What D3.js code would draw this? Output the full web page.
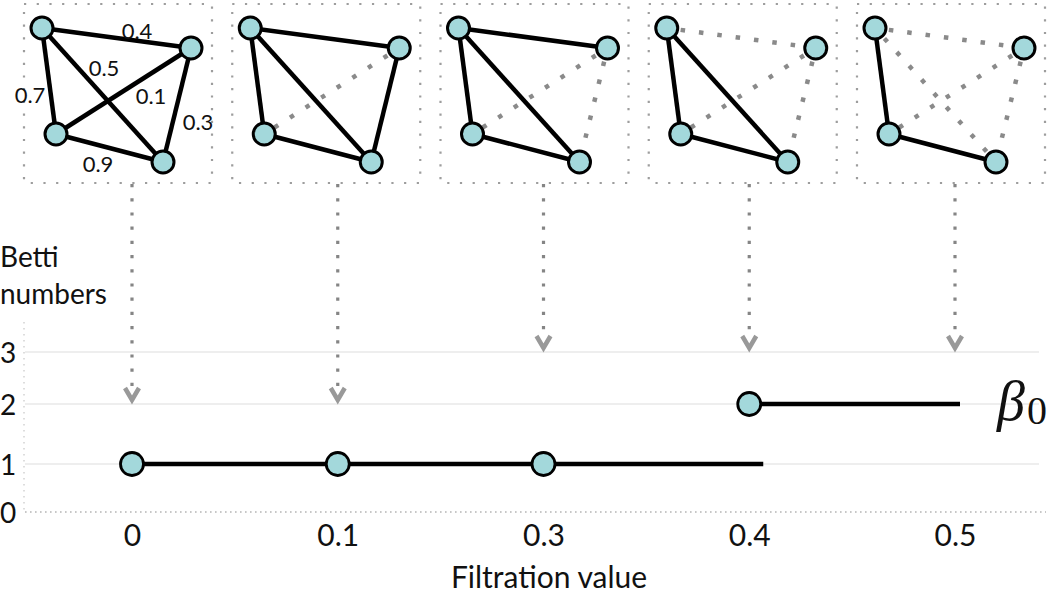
<!DOCTYPE html>
<html>
<head>
<meta charset="utf-8">
<script src="https://cdn.jsdelivr.net/npm/d3@7"></script>
<style>
  html, body { margin: 0; padding: 0; background: #fff; }
  svg { display: block; }
  text { font-family: Lato, "Open Sans", sans-serif; fill: #111; }
</style>
</head>
<body>
<svg id="chart" width="1050" height="596"></svg>
<script>
// ---------- DATA ----------
const filtrationValues = [0, 0.1, 0.3, 0.4, 0.5];
const filtrationLabels = ["0", "0.1", "0.3", "0.4", "0.5"];
const bettiTicks = [0, 1, 2, 3];
const nodeNames = ["A", "B", "C", "D"];
const edgeFrom = ["A", "A", "A", "B", "B", "C"];
const edgeTo = ["B", "C", "D", "C", "D", "D"];
const edgeWeights = [0.4, 0.7, 0.5, 0.1, 0.3, 0.9];
// beta_0 marked points (filtration value, betti number)
const pointFiltration = [0, 0.1, 0.3, 0.4];
const pointBetti = [1, 1, 1, 2];
// beta_0 step segments
const segStart = [0, 0.4];
const segEnd = [0.4, 0.5];
const segBetti = [1, 2];
// betti level each arrow points down to
const arrowTarget = [2, 2, 3, 3, 3];
const xTitle = "Filtration value";
const yTitle = ["Betti", "numbers"];

// ---------- LAYOUT / STYLE ----------
const W = 1050, H = 596;
const nodeLayout = { A: [18, 24], B: [167, 44], C: [32, 130], D: [139, 158] };
const edgeLabelLayout = [[113, 27], [6, 91], [80, 64], [127, 92], [174, 118], [74, 160]];
const panelTop = 4, panelH = 179;
const nodeFill = "#a3d8db";
const segOverhang = 14;

const svg = d3.select("#chart");

// scales
const x = d3.scalePoint().domain(filtrationValues).range([132, 955]);
const y = d3.scaleLinear().domain(bettiTicks).range([512, 464, 404, 352]);
const panelX = d3.scaleBand().domain(filtrationValues).range([24, 1045]).paddingInner(0.0972).paddingOuter(0);

// ---------- GRID ----------
const grid = svg.append("g");
grid.selectAll("line.g").data(bettiTicks.filter(d => d > 0)).join("line")
  .attr("x1", 25).attr("x2", 1039)
  .attr("y1", d => y(d)).attr("y2", d => y(d))
  .attr("stroke", "#e9e9e9").attr("stroke-width", 1.5);
grid.append("line")
  .attr("x1", 25).attr("x2", 1046).attr("y1", y(0)).attr("y2", y(0))
  .attr("stroke", "#b5b5b5").attr("stroke-width", 1.6).attr("stroke-dasharray", "1.6,3.4");
grid.append("line")
  .attr("x1", 24).attr("x2", 24).attr("y1", 322).attr("y2", y(0))
  .attr("stroke", "#cfcfcf").attr("stroke-width", 1.4).attr("stroke-dasharray", "1.4,4.6");

// ---------- AXES ----------
const xAxis = d3.axisBottom(x).tickSize(0).tickPadding(0)
  .tickFormat((d, i) => filtrationLabels[i]);
const gx = svg.append("g").attr("transform", `translate(0,${y(0)})`).call(xAxis);
gx.select(".domain").remove();
gx.selectAll("text").attr("y", 34).attr("dy", null)
  .style("font-family", "Lato, sans-serif").style("font-size", "30px").attr("fill", "#111");

const yAxis = d3.axisLeft(y).tickValues(bettiTicks).tickSize(0).tickFormat(d3.format("d"));
const gy = svg.append("g").attr("transform", "translate(0,0)").call(yAxis);
gy.select(".domain").remove();
gy.selectAll("text").attr("x", 0).attr("dy", "0.36em").attr("text-anchor", "start")
  .style("font-family", "Lato, sans-serif").style("font-size", "28px").attr("fill", "#111");

svg.append("text").attr("x", 549).attr("y", 588).attr("text-anchor", "middle")
  .style("font-size", "30px").text(xTitle);
svg.selectAll("text.yt").data(yTitle).join("text").attr("class", "yt")
  .attr("x", 0).attr("y", (d, i) => 267 + i * 37)
  .style("font-size", "28px").text(d => d);

// ---------- PANELS ----------
filtrationValues.forEach((fv, i) => {
  const px = panelX(fv), pw = panelX.bandwidth();
  const g = svg.append("g").attr("transform", `translate(${px},${panelTop})`);
  g.append("rect").attr("x", 0).attr("y", 0).attr("width", pw).attr("height", panelH)
    .attr("fill", "none").attr("stroke", "#9d9d9d").attr("stroke-width", 2.2)
    .attr("stroke-dasharray", "2.2,10.5");
  const edges = edgeWeights.map((w, k) => ({ a: edgeFrom[k], b: edgeTo[k], w, k, removed: w <= fv }));
  g.selectAll("line.rm").data(edges.filter(e => e.removed)).join("line")
    .attr("x1", e => nodeLayout[e.a][0]).attr("y1", e => nodeLayout[e.a][1])
    .attr("x2", e => nodeLayout[e.b][0]).attr("y2", e => nodeLayout[e.b][1])
    .attr("stroke", "#8a8a8a").attr("stroke-width", 4.5).attr("stroke-dasharray", "4.5,14")
    .attr("stroke-dashoffset", -14);
  g.selectAll("line.kp").data(edges.filter(e => !e.removed)).join("line")
    .attr("x1", e => nodeLayout[e.a][0]).attr("y1", e => nodeLayout[e.a][1])
    .attr("x2", e => nodeLayout[e.b][0]).attr("y2", e => nodeLayout[e.b][1])
    .attr("stroke", "#000").attr("stroke-width", 4.5);
  if (i === 0) {
    g.selectAll("text.wl").data(edges).join("text")
      .attr("x", e => edgeLabelLayout[e.k][0]).attr("y", e => edgeLabelLayout[e.k][1])
      .attr("text-anchor", "middle").attr("dy", "0.36em")
      .style("font-size", "22px").text(e => e.w);
  }
  g.selectAll("circle").data(nodeNames).join("circle")
    .attr("cx", d => nodeLayout[d][0]).attr("cy", d => nodeLayout[d][1]).attr("r", 11)
    .attr("fill", nodeFill).attr("stroke", "#000").attr("stroke-width", 3);
});

// ---------- ARROWS ----------
filtrationValues.forEach((fv, i) => {
  const ax = x(fv);
  const tip = y(arrowTarget[i]) - 1;
  svg.append("line").attr("x1", ax).attr("x2", ax).attr("y1", panelTop + panelH + 1).attr("y2", tip - 15)
    .attr("stroke", "#858585").attr("stroke-width", 3.2).attr("stroke-dasharray", "3.2,11");
  svg.append("path")
    .attr("d", `M${ax - 7},${tip - 15} L${ax},${tip - 3} L${ax + 7},${tip - 15}`)
    .attr("fill", "none").attr("stroke", "#999").attr("stroke-width", 4.5)
    .attr("stroke-linejoin", "miter");
});

// ---------- BETTI STEP FUNCTION ----------
svg.selectAll("line.seg").data(segBetti).join("line")
  .attr("x1", (d, i) => x(segStart[i]))
  .attr("x2", (d, i) => x(segEnd[i]) + (i === 0 ? segOverhang : 5))
  .attr("y1", d => y(d)).attr("y2", d => y(d))
  .attr("stroke", "#000").attr("stroke-width", 4.5);
svg.selectAll("circle.pt").data(pointBetti).join("circle")
  .attr("cx", (d, i) => x(pointFiltration[i])).attr("cy", d => y(d)).attr("r", 11.5)
  .attr("fill", nodeFill).attr("stroke", "#000").attr("stroke-width", 2.8);

// beta_0 label
const lab = svg.append("text").attr("x", 997).attr("y", y(2) + 16)
  .style("font-family", "'Liberation Serif', 'DejaVu Serif', serif");
lab.append("tspan").style("font-style", "italic").style("font-size", "56px").text("β");
lab.append("tspan").attr("dy", 4).attr("dx", 2).style("font-size", "40px").text("0");
</script>
</body>
</html>
